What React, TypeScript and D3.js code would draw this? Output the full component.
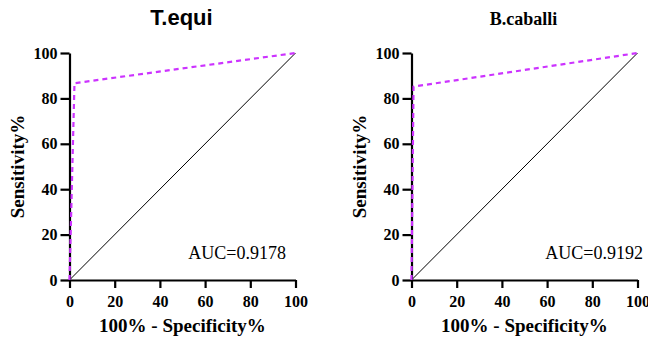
import { useRef, useEffect } from 'react';
import * as d3 from 'd3';

const tickValues = [0, 20, 40, 60, 80, 100];
const diagonal = [0, 100];

const tequiFpr = [0, 2.2, 100];
const tequiTpr = [0, 86.7, 100];
const tequiAuc = 'AUC=0.9178';

const cabFpr = [0, 0.9, 100];
const cabTpr = [0, 85.2, 100];
const cabAuc = 'AUC=0.9192';

const SERIF = '"Liberation Serif", "Times New Roman", serif';
const SANS = '"Liberation Sans", Arial, sans-serif';

export default function App() {
  const svgRef = useRef<SVGSVGElement>(null);

  useEffect(() => {
    if (!svgRef.current) return;
    const svg = d3.select(svgRef.current);
    svg.selectAll('*').remove();

    const panels = [
      { title: 'T.equi', titleFont: SANS, titleSize: 22, fpr: tequiFpr, tpr: tequiTpr, auc: tequiAuc, left: 69.5, aucRight: 286 },
      { title: 'B.caballi', titleFont: SERIF, titleSize: 18, fpr: cabFpr, tpr: cabTpr, auc: cabAuc, left: 411.5, aucRight: 643 },
    ];

    const top = 53;
    const bottom = 280;
    const innerW = 226;

    const styleAxis = (a: d3.Selection<SVGGElement, unknown, null, undefined>) => {
      a.attr('font-family', SERIF).attr('font-size', 16).attr('font-weight', 'bold');
      a.select('.domain').attr('stroke', '#000').attr('stroke-width', 2.2);
      a.selectAll('line').attr('stroke', '#000').attr('stroke-width', 2.2);
      a.selectAll('text')
        .attr('fill', '#000')
        .style('font-family', SERIF)
        .style('font-size', '16px')
        .style('font-weight', 'bold');
    };

    panels.forEach((p) => {
      const x = d3.scaleLinear().domain([0, 100]).range([p.left, p.left + innerW]);
      const y = d3.scaleLinear().domain([0, 100]).range([bottom, top]);
      const g = svg.append('g');

      // diagonal reference
      g.append('line')
        .attr('x1', x(diagonal[0])).attr('y1', y(diagonal[0]))
        .attr('x2', x(diagonal[1])).attr('y2', y(diagonal[1]))
        .attr('stroke', '#000').attr('stroke-width', 1);

      // axes
      g.append('g')
        .attr('transform', `translate(0,${bottom})`)
        .call(d3.axisBottom(x).tickValues(tickValues).tickSize(8).tickSizeOuter(0).tickPadding(8))
        .call(styleAxis);

      g.append('g')
        .attr('transform', `translate(${p.left},0)`)
        .call(d3.axisLeft(y).tickValues(tickValues).tickSize(9).tickSizeOuter(0).tickPadding(3))
        .call(styleAxis);

      // ROC curve
      const pts = p.fpr.map((f, i) => [f, p.tpr[i]] as [number, number]);
      const line = d3.line<[number, number]>().x((d) => x(d[0])).y((d) => y(d[1]));
      g.append('path')
        .datum(pts)
        .attr('d', line)
        .attr('fill', 'none')
        .attr('stroke', '#cc33ff')
        .attr('stroke-width', 2.2)
        .attr('stroke-dasharray', '5,4');

      // title
      g.append('text')
        .attr('x', p.left + innerW / 2 - 1).attr('y', 25)
        .attr('text-anchor', 'middle')
        .style('font-family', p.titleFont).style('font-weight', 'bold')
        .style('font-size', `${p.titleSize}px`)
        .text(p.title);

      // axis titles
      g.append('text')
        .attr('x', p.left + innerW / 2).attr('y', 332)
        .attr('text-anchor', 'middle')
        .style('font-family', SERIF).style('font-weight', 'bold').style('font-size', '19px')
        .text('100% - Specificity%');

      g.append('text')
        .attr('transform', `translate(${p.left - 46}, ${(top + bottom) / 2}) rotate(-90)`)
        .attr('text-anchor', 'middle')
        .style('font-family', SERIF).style('font-weight', 'bold').style('font-size', '19px')
        .text('Sensitivity%');

      // AUC
      g.append('text')
        .attr('x', p.aucRight).attr('y', 259)
        .attr('text-anchor', 'end')
        .style('font-family', SERIF).style('font-size', '18px')
        .text(p.auc);
    });
  }, []);

  return (
    <div style={{ position: 'absolute', left: 0, top: 0, width: 648, height: 340, background: '#fff' }}>
      <svg ref={svgRef} width={648} height={340} />
    </div>
  );
}
